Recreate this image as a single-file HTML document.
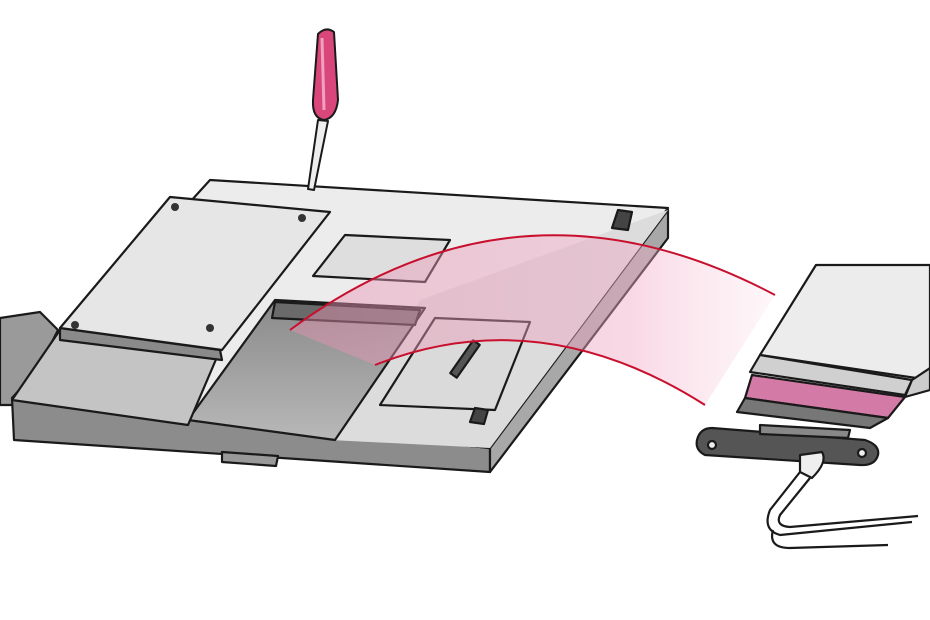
<!DOCTYPE html>
<html><head><meta charset="utf-8"><style>html,body{margin:0;padding:0;background:#fff}svg{display:block}</style></head>
<body>
<svg width="930" height="620" viewBox="0 0 930 620" xmlns="http://www.w3.org/2000/svg">
<defs>
<linearGradient id="pk" x1="0" y1="0" x2="1" y2="0">
<stop offset="0" stop-color="#e890b0" stop-opacity="0.45"/>
<stop offset="0.7" stop-color="#f0a8c4" stop-opacity="0.45"/>
<stop offset="1" stop-color="#f7c8da" stop-opacity="0.15"/>
</linearGradient>
<linearGradient id="bay" x1="0" y1="0" x2="0" y2="1">
<stop offset="0" stop-color="#8a8a8a"/><stop offset="1" stop-color="#b8b8b8"/>
</linearGradient>
</defs>
<g stroke="#1a1a1a" stroke-width="2.2" stroke-linejoin="round" fill="none">
<polygon points="0,318 40,312 58,330 20,405 0,405" fill="#9a9a9a"/>
<polygon points="12,398 490,448 490,472 14,440" fill="#8c8c8c"/>
<polygon points="668,210 490,448 490,472 668,238" fill="#a8a8a8"/>
<polygon points="222,452 278,456 276,466 222,462" fill="#999"/>
<polygon points="210,180 668,208 490,448 12,398" fill="#ececec"/>
<polygon points="420,300 668,210 490,448 330,440" fill="#dcdcdc" stroke="none"/>
<polygon points="275,300 425,308 335,440 188,420" fill="url(#bay)"/>
<polygon points="275,302 420,310 415,325 272,318" fill="#6a6a6a"/>
<polygon points="60,330 220,350 188,425 12,400" fill="#c4c4c4"/>
<polygon points="60,328 220,350 222,360 60,340" fill="#8a8a8a"/>
<polygon points="170,197 330,212 222,350 60,328" fill="#e6e6e6"/>
<g fill="#333" stroke="none">
<circle cx="175" cy="207" r="4"/><circle cx="302" cy="218" r="4"/><circle cx="75" cy="325" r="4"/><circle cx="210" cy="328" r="4"/>
</g>
<polygon points="345,235 450,240 425,282 313,276" fill="#dedede"/>
<polygon points="435,318 530,322 495,410 380,405" fill="#dadada"/>
<rect x="445" y="355" width="40" height="8" fill="#555" transform="rotate(-55 465 359)"/>
<polygon points="618,210 632,212 628,230 612,228" fill="#444"/>
<polygon points="475,408 488,410 484,424 470,422" fill="#444"/>
</g>
<path d="M290,330 Q520,160 775,295 L705,405 Q540,300 375,365 Z" fill="url(#pk)"/>
<path d="M290,330 Q520,160 775,295" stroke="#c8102e" stroke-width="2" fill="none"/>
<path d="M375,365 Q540,300 705,405" stroke="#c8102e" stroke-width="2" fill="none"/>
<g stroke="#1a1a1a" stroke-width="2" stroke-linejoin="round">
<path d="M318,34 Q326,26 334,32 L338,100 Q336,118 324,120 Q312,118 313,100 Z" fill="#d9467a"/>
<line x1="322" y1="38" x2="324" y2="110" stroke="#f2a0bf" stroke-width="3"/>
<polygon points="318,120 328,121 314,190 308,189" fill="#eee"/>
</g>
<g stroke="#1a1a1a" stroke-width="2.2" stroke-linejoin="round">
<polygon points="816,265 930,265 930,380 760,355" fill="#ececec"/>
<polygon points="760,355 912,380 905,395 750,372" fill="#d0d0d0"/>
<polygon points="752,375 905,397 888,418 745,398" fill="#d47aa6"/>
<polygon points="745,398 888,418 870,428 737,412" fill="#777"/>
<polygon points="912,380 930,368 930,390 905,397" fill="#ccc"/>
<path d="M712,428 L865,440 Q880,445 878,455 Q875,466 860,465 L705,455 Q695,450 697,440 Q700,428 712,428 Z" fill="#555"/>
<circle cx="712" cy="445" r="4" fill="#eee"/><circle cx="862" cy="453" r="4" fill="#eee"/>
<polygon points="760,425 850,430 848,438 760,434" fill="#888"/>
<path d="M800,455 L822,452 Q828,462 812,478 L800,472 Z" fill="#eee"/>
<path d="M800,472 L770,510 Q762,530 780,535 L912,522" fill="none"/>
<path d="M810,478 L780,515 Q775,526 790,527 L918,516" fill="none"/>
<path d="M773,530 Q768,548 790,548 L888,545" fill="none"/>
</g>
</svg>
</body></html>
